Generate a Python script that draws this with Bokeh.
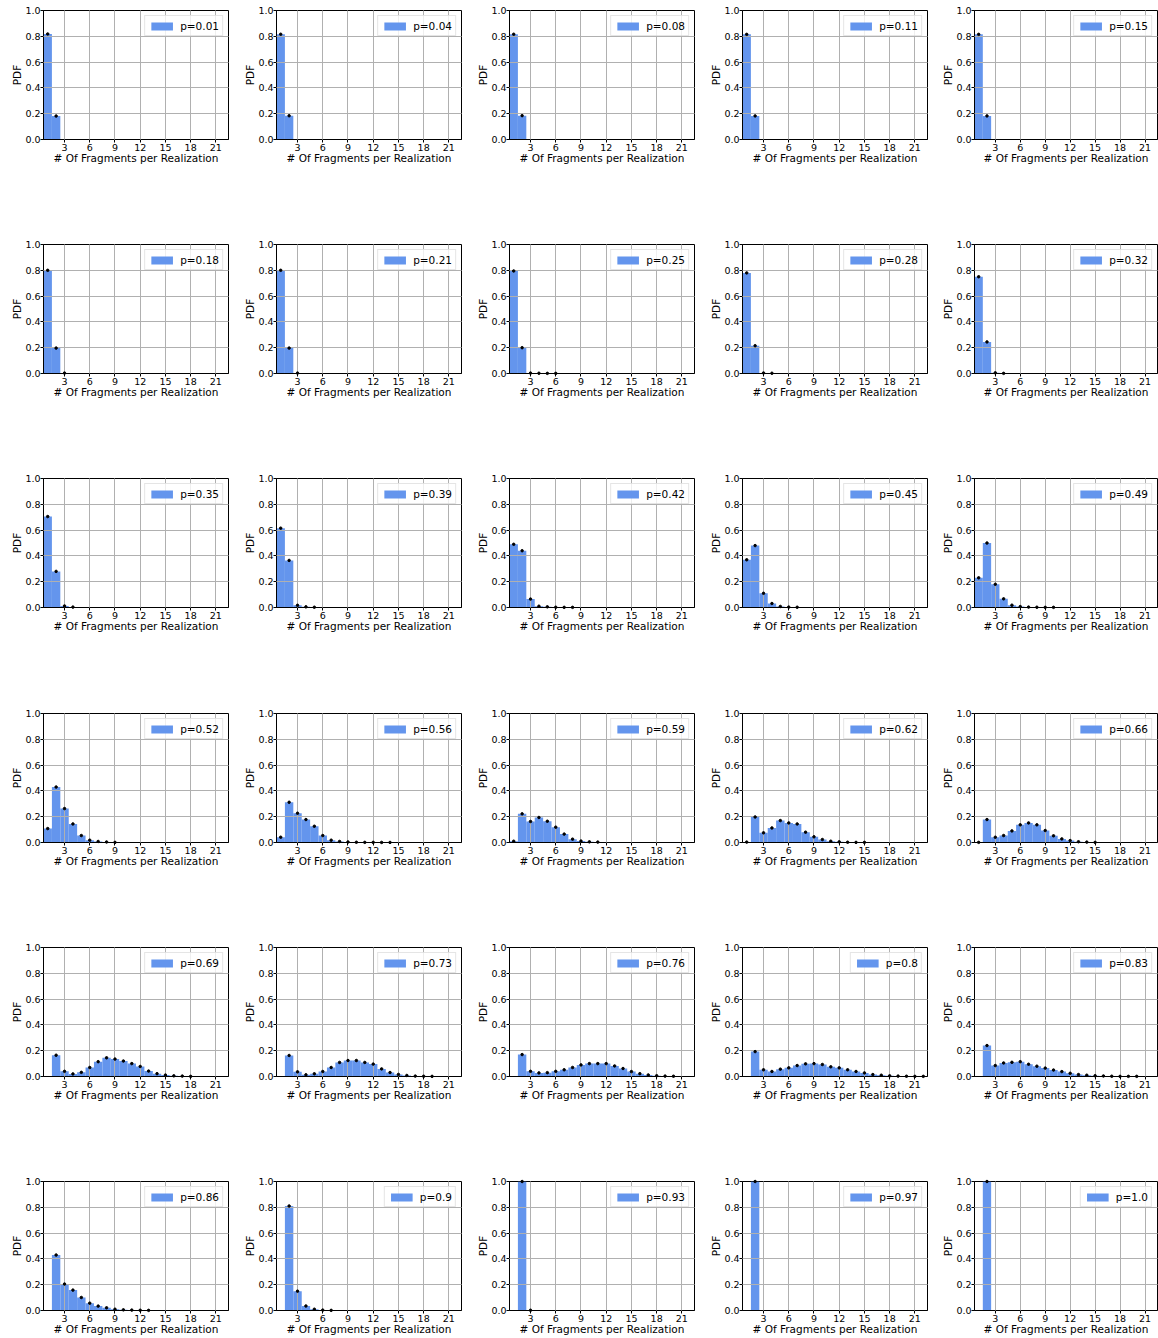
import numpy as np
from bokeh.plotting import figure
from bokeh.layouts import gridplot
from bokeh.models import Range1d, FixedTicker, PrintfTickFormatter, ColumnDataSource
from bokeh.embed import file_html
from bokeh.resources import INLINE

# ---------------- data ----------------
p_labels = ["0.01", "0.04", "0.08", "0.11", "0.15",
            "0.18", "0.21", "0.25", "0.28", "0.32",
            "0.35", "0.39", "0.42", "0.45", "0.49",
            "0.52", "0.56", "0.59", "0.62", "0.66",
            "0.69", "0.73", "0.76", "0.8", "0.83",
            "0.86", "0.9", "0.93", "0.97", "1.0"]

xticks = [3, 6, 9, 12, 15, 18, 21]
yticks = [0.0, 0.2, 0.4, 0.6, 0.8, 1.0]

# PDF per number of fragments (bin 1, 2, 3, ...); None = no data
pdf_001 = [0.818, 0.182]
pdf_004 = [0.816, 0.184]
pdf_008 = [0.816, 0.185]
pdf_011 = [0.815, 0.183]
pdf_015 = [0.815, 0.183]
pdf_018 = [0.800, 0.197, 0.003]
pdf_021 = [0.800, 0.197, 0.003]
pdf_025 = [0.795, 0.200, 0.003, 0.002, 0.001, 0.001]
pdf_028 = [0.780, 0.215, 0.004, 0.002]
pdf_032 = [0.750, 0.245, 0.005, 0.001]
pdf_035 = [0.705, 0.280, 0.012, 0.003]
pdf_039 = [0.615, 0.365, 0.017, 0.005, 0.002]
pdf_042 = [0.490, 0.440, 0.065, 0.010, 0.005, 0.002, 0.001, 0.001]
pdf_045 = [0.370, 0.480, 0.110, 0.031, 0.008, 0.003, 0.002]
pdf_049 = [0.230, 0.500, 0.180, 0.067, 0.018, 0.007, 0.003, 0.002, 0.001, 0.001]
pdf_052 = [0.108, 0.430, 0.263, 0.144, 0.054, 0.018, 0.008, 0.004, 0.001]
pdf_056 = [0.041, 0.312, 0.227, 0.178, 0.126, 0.054, 0.018, 0.008, 0.004,
           0.002, 0.001, 0.001, 0.0005, 0.0005]
pdf_059 = [0.010, 0.222, 0.163, 0.194, 0.165, 0.119, 0.065, 0.026, 0.011,
           0.005, 0.003]
pdf_062 = [0.003, 0.198, 0.075, 0.113, 0.170, 0.152, 0.144, 0.080, 0.044,
           0.023, 0.010, 0.005, 0.002, 0.001, 0.001]
pdf_066 = [0.001, 0.178, 0.041, 0.054, 0.090, 0.137, 0.152, 0.137, 0.093,
           0.052, 0.028, 0.015, 0.006, 0.003, 0.001]
pdf_069 = [None, 0.165, 0.040, 0.020, 0.032, 0.070, 0.115, 0.145, 0.135,
           0.120, 0.100, 0.078, 0.042, 0.022, 0.011, 0.005, 0.003, 0.001]
pdf_073 = [None, 0.163, 0.036, 0.013, 0.021, 0.039, 0.070, 0.109, 0.124,
           0.124, 0.109, 0.096, 0.059, 0.031, 0.016, 0.008, 0.003, 0.002, 0.001]
pdf_076 = [None, 0.170, 0.040, 0.028, 0.030, 0.040, 0.052, 0.070, 0.090,
           0.100, 0.100, 0.100, 0.082, 0.062, 0.038, 0.022, 0.012, 0.006,
           0.003, 0.002]
pdf_080 = [None, 0.193, 0.052, 0.039, 0.057, 0.067, 0.085, 0.098, 0.100,
           0.093, 0.075, 0.067, 0.052, 0.039, 0.028, 0.015, 0.010, 0.005,
           0.003, 0.002, 0.001, 0.001]
pdf_083 = [None, 0.240, 0.085, 0.105, 0.110, 0.115, 0.095, 0.080, 0.065,
           0.050, 0.038, 0.025, 0.015, 0.010, 0.006, 0.004, 0.002, 0.001,
           0.001, 0.001]
pdf_086 = [None, 0.430, 0.205, 0.158, 0.101, 0.057, 0.034, 0.021, 0.010,
           0.005, 0.003, 0.002, 0.001]
pdf_090 = [None, 0.810, 0.150, 0.035, 0.010, 0.003, 0.001]
pdf_093 = [None, 1.000, 0.002]
pdf_097 = [None, 1.000]
pdf_100 = [None, 1.000]

series = [pdf_001, pdf_004, pdf_008, pdf_011, pdf_015,
          pdf_018, pdf_021, pdf_025, pdf_028, pdf_032,
          pdf_035, pdf_039, pdf_042, pdf_045, pdf_049,
          pdf_052, pdf_056, pdf_059, pdf_062, pdf_066,
          pdf_069, pdf_073, pdf_076, pdf_080, pdf_083,
          pdf_086, pdf_090, pdf_093, pdf_097, pdf_100]

# ---------------- styling ----------------
FONT = "DejaVu Sans"
BAR = "#6495ED"
GRID = "#b0b0b0"
NCOLS = 5
NROWS = len(series) // NCOLS
COL_W = [233, 233, 233, 232, 227]
ROW_H = [234, 234, 235, 234, 234, 167]

figs = []
for i, (lab, vals) in enumerate(zip(p_labels, series)):
    r, c = divmod(i, NCOLS)
    last_col = c == NCOLS - 1
    w = COL_W[c]
    h = ROW_H[r]
    f = figure(width=w, height=h,
               x_range=Range1d(0.5, 22.5), y_range=Range1d(0.0, 1.0),
               output_backend="svg", toolbar_location=None,
               min_border_left=43, min_border_right=w - 43 - (183 if last_col else 185),
               min_border_top=10, min_border_bottom=h - 10 - 129)
    f.background_fill_color = "white"
    f.border_fill_color = "white"
    f.outline_line_color = "black"
    f.outline_line_width = 1
    f.outline_line_alpha = 1

    y = np.array([np.nan if v is None else v for v in vals], dtype=float)
    x = np.arange(1, len(y) + 1)
    src = ColumnDataSource(dict(x=x, y=y))
    f.vbar(x="x", top="y", width=1.0, bottom=0, source=src,
           fill_color=BAR, line_color=None, legend_label="p=" + lab)
    dots = f.scatter(x="x", y="y", source=src, size=2.5, marker="circle",
                     fill_color="black", line_color="black")
    dots.level = "annotation"

    # grid above bars (matplotlib default)
    f.grid.grid_line_color = GRID
    f.grid.grid_line_width = 1
    f.grid.level = "guide"
    f.xgrid.ticker = FixedTicker(ticks=xticks)
    f.ygrid.ticker = FixedTicker(ticks=yticks)

    f.xaxis.ticker = FixedTicker(ticks=xticks)
    f.yaxis.ticker = FixedTicker(ticks=yticks)
    f.yaxis.formatter = PrintfTickFormatter(format="%.1f")
    f.xaxis.axis_label = "# Of Fragments per Realization"
    f.yaxis.axis_label = "PDF"
    for ax in (f.xaxis[0], f.yaxis[0]):
        ax.axis_label_text_font = FONT
        ax.axis_label_text_font_size = "10.5px"
        ax.axis_label_text_font_style = "normal"
        ax.axis_label_text_color = "black"
        ax.major_label_text_font = FONT
        ax.major_label_text_font_size = "9.5px"
        ax.major_label_text_color = "black"
        ax.axis_line_color = "black"
        ax.major_tick_line_color = "black"
        ax.major_tick_out = 3
        ax.major_tick_in = 0
        ax.minor_tick_line_color = None
        ax.major_label_standoff = 1
    f.xaxis.axis_label_standoff = -2
    f.yaxis.axis_label_standoff = -1
    f.yaxis.major_label_standoff = 0

    lg = f.legend[0]
    lg.location = "top_right"
    lg.margin = 5
    lg.padding = 3
    lg.spacing = 0
    lg.glyph_width = 27
    lg.glyph_height = 10
    lg.label_standoff = 5
    lg.label_height = 13
    lg.label_text_font = FONT
    lg.label_text_font_size = "10.5px"
    lg.label_text_color = "black"
    lg.border_line_color = "#cccccc"
    lg.border_line_width = 1
    lg.background_fill_alpha = 0.8

    figs.append(f)

grid = gridplot(figs, ncols=NCOLS, toolbar_location=None)

open("out.html", "w").write(file_html(grid, INLINE))
